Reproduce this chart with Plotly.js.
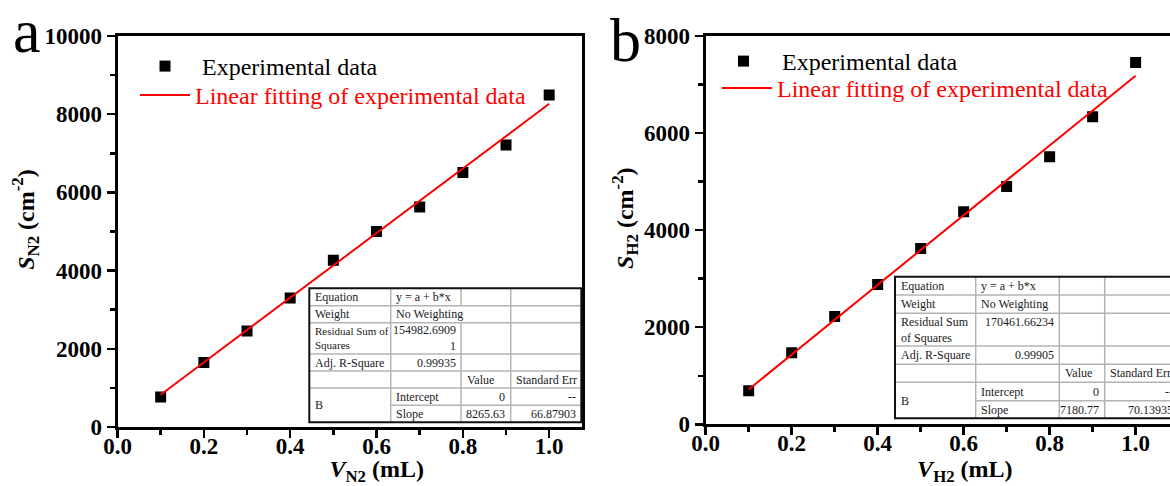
<!DOCTYPE html>
<html>
<head>
<meta charset="utf-8">
<script src="https://cdn.plot.ly/plotly-3.0.1.min.js"></script>
<style>html,body{margin:0;padding:0;background:#fff;}#chart{width:1170px;height:486px;}</style>
</head>
<body>
<div id="chart"></div>
<script>
// ---------- data ----------
const volumes = [0.1, 0.2, 0.3, 0.4, 0.5, 0.6, 0.7, 0.8, 0.9, 1.0];
const areaN2 = [767, 1647, 2455, 3299, 4263, 4997, 5627, 6506, 7212, 8491];
const areaH2 = [693, 1476, 2219, 2878, 3621, 4377, 4899, 5511, 6336, 7456];
const slopeN2 = 8265.63;
const slopeH2 = 7180.77;
const fitRange = [0.1, 1.0];
const legendNames = ["Experimental data", "Linear fitting of experimental data"];

// fit tables (text)
const tableN2 = [
  [0, 0, "Equation", "l"], [0, 1, "y = a + b*x", "l"],
  [1, 0, "Weight", "l"], [1, 1, "No Weighting", "l"],
  [2, 0, "Residual Sum of<br>Squares", "l", 11], [2, 1, "154982.6909<br>1", "r"],
  [3, 0, "Adj. R-Square", "l"], [3, 1, "0.99935", "r"],
  [4, 2, "Value", "l"], [4, 3, "Standard Err", "l"],
  [5, 1, "Intercept", "l"], [5, 2, "0", "r"], [5, 3, "--", "r"],
  [6, 1, "Slope", "l"], [6, 2, "8265.63", "r"], [6, 3, "66.87903", "r"],
  [5.5, 0, "B", "l"]
];
const tableH2 = [
  [0, 0, "Equation", "l"], [0, 1, "y = a + b*x", "l"],
  [1, 0, "Weight", "l"], [1, 1, "No Weighting", "l"],
  [2, 0, "Residual Sum<br>of Squares", "l"], [2.0, 1, "170461.66234", "r", null, 322.3],
  [3, 0, "Adj. R-Square", "l"], [3, 1, "0.99905", "r"],
  [4, 2, "Value", "l"], [4, 3, "Standard Err", "l"],
  [5, 1, "Intercept", "l"], [5, 2, "0", "r"], [5, 3, "--", "r"],
  [6, 1, "Slope", "l"], [6, 2, "7180.77", "r"], [6, 3, "70.13935", "r"],
  [5.5, 0, "B", "l"]
];

// ---------- layout helpers ----------
const W = 1170, H = 486;
const X = p => p / W;
const Y = p => 1 - p / H;
const serif = "Liberation Serif";

const shapes = [];
const annotations = [];

function drawTable(cells, cols, rows, size, skipV) {
  const x0 = cols[0], x1 = cols[cols.length - 1], y0 = rows[0], y1 = rows[rows.length - 1];
  shapes.push({type: "rect", xref: "paper", yref: "paper", x0: X(x0), x1: X(x1), y0: Y(y1), y1: Y(y0),
    fillcolor: "#fff", line: {width: 0}, layer: "above"});
  const grey = {color: "#b4b4b4", width: 1.5};
  for (let i = 1; i < rows.length - 1; i++) {
    const startX = (i === 6) ? cols[1] : x0;
    shapes.push({type: "line", xref: "paper", yref: "paper", x0: X(startX), x1: X(x1), y0: Y(rows[i]), y1: Y(rows[i]), line: grey, layer: "above"});
  }
  for (let j = 1; j < cols.length - 1; j++) {
    if (skipV && j === 2) {
      shapes.push({type: "line", xref: "paper", yref: "paper", x0: X(cols[j]), x1: X(cols[j]), y0: Y(rows[0]), y1: Y(rows[1]), line: grey, layer: "above"});
      shapes.push({type: "line", xref: "paper", yref: "paper", x0: X(cols[j]), x1: X(cols[j]), y0: Y(rows[2]), y1: Y(y1), line: grey, layer: "above"});
    } else {
      shapes.push({type: "line", xref: "paper", yref: "paper", x0: X(cols[j]), x1: X(cols[j]), y0: Y(y0), y1: Y(y1), line: grey, layer: "above"});
    }
  }
  shapes.push({type: "rect", xref: "paper", yref: "paper", x0: X(x0), x1: X(x1), y0: Y(y1), y1: Y(y0),
    fillcolor: "rgba(0,0,0,0)", line: {color: "#111", width: 2}, layer: "above"});
  cells.forEach(c => {
    const [r, col, text, al, fs, yOver] = c;
    let yc;
    if (yOver) yc = yOver;
    else if (r === 5.5) yc = rows[6];
    else yc = (rows[r] + rows[r + 1]) / 2;
    const xl = al === "l" ? cols[col] + 3.5 : cols[col + 1] - 3.5;
    annotations.push({xref: "paper", yref: "paper", x: X(xl), y: Y(yc), text: text, showarrow: false,
      xanchor: al === "l" ? "left" : "right", yanchor: "middle", align: al === "l" ? "left" : "right",
      font: {family: serif, size: fs || size, color: "#1a1a1a"}});
  });
}

drawTable(tableN2, [309.3, 390.7, 461, 510.7, 581.3], [288.3, 305.7, 322.7, 354, 371, 388, 405.3, 422.3], 12, true);
drawTable(tableH2, [895, 975.7, 1059.3, 1104.7, 1178], [276.7, 295, 313.3, 346, 364.3, 382.3, 400.7, 418.3], 12, false);

// panel letters
annotations.push({xref: "paper", yref: "paper", x: X(27), y: Y(31), text: "a", showarrow: false,
  xanchor: "center", yanchor: "middle", font: {family: serif, size: 62, color: "#000"}});
annotations.push({xref: "paper", yref: "paper", x: X(625), y: Y(40), text: "b", showarrow: false,
  xanchor: "center", yanchor: "middle", font: {family: serif, size: 62, color: "#000"}});

// ---------- traces ----------
const fitN2 = fitRange.map(v => slopeN2 * v);
const fitH2 = fitRange.map(v => slopeH2 * v);
const redName = '<span style="color:#ff0000">' + legendNames[1] + '</span>';
const traces = [
  {x: volumes, y: areaN2, type: "scatter", mode: "markers", name: legendNames[0],
   marker: {symbol: "square", size: 11, color: "#000"}, xaxis: "x", yaxis: "y", legend: "legend"},
  {x: fitRange, y: fitN2, type: "scatter", mode: "lines", name: redName,
   line: {color: "#ff0000", width: 2}, xaxis: "x", yaxis: "y", legend: "legend2"},
  {x: volumes, y: areaH2, type: "scatter", mode: "markers", name: legendNames[0],
   marker: {symbol: "square", size: 11, color: "#000"}, xaxis: "x2", yaxis: "y2", legend: "legend3"},
  {x: fitRange, y: fitH2, type: "scatter", mode: "lines", name: redName,
   line: {color: "#ff0000", width: 2}, xaxis: "x2", yaxis: "y2", legend: "legend4"}
];

const tickFont = {family: serif, size: 23, color: "#000", weight: 700};
const titleFont = {family: serif, size: 24, color: "#000", weight: 700};
const padX = "&nbsp;".repeat(9);
const padY = "&nbsp;".repeat(4);
function xAxis(dom, range, anchor, title) {
  return {domain: dom, range: range, anchor: anchor, tick0: 0, dtick: 0.2, tickformat: ".1f",
    ticks: "outside", ticklen: 8, tickwidth: 2.5, tickcolor: "#000", ticklabelstandoff: -12,
    minor: {dtick: 0.1, ticks: "outside", ticklen: 5, tickwidth: 2.5, tickcolor: "#000"},
    showline: true, linewidth: 3, linecolor: "#000", mirror: true, showgrid: false, zeroline: false,
    tickfont: tickFont, title: {text: title, font: titleFont, standoff: 2}, fixedrange: true};
}
function yAxis(dom, range, anchor, title, dt) {
  return {domain: dom, range: range, anchor: anchor, tick0: 0, dtick: dt, tickformat: "d",
    ticks: "outside", ticklen: 8, tickwidth: 2.5, tickcolor: "#000",
    minor: {dtick: dt / 2, ticks: "outside", ticklen: 5, tickwidth: 2.5, tickcolor: "#000"},
    showline: true, linewidth: 3, linecolor: "#000", mirror: true, showgrid: false, zeroline: false,
    tickfont: tickFont, title: {text: title, font: titleFont, standoff: 4}, fixedrange: true};
}
function leg(px, py, iw) {
  return {x: X(px), y: Y(py), xanchor: "left", yanchor: "top", bgcolor: "rgba(0,0,0,0)",
    font: {family: serif, size: 24, color: "#000"}, itemwidth: iw};
}

const layout = {
  width: W, height: H, margin: {l: 0, r: 0, t: 0, b: 0},
  paper_bgcolor: "#fff", plot_bgcolor: "#fff", showlegend: true,
  xaxis: xAxis([X(117.5), X(582)], [0, 1.076], "y", "<b>" + padX + "<i>V</i><sub>N2</sub> (mL)</b>"),
  yaxis: yAxis([Y(427), Y(36)], [0, 10000], "x", "<b>" + padY + "<i>S</i><sub>N2</sub> (cm<sup>-2</sup>)</b>", 2000),
  xaxis2: xAxis([X(705.7), 1], [0, 1.08], "y2", "<b>" + padX + "<i>V</i><sub>H2</sub> (mL)</b>"),
  yaxis2: yAxis([Y(424.3), Y(36)], [0, 8000], "x2", "<b>" + padY + "<i>S</i><sub>H2</sub> (cm<sup>-2</sup>)</b>", 2000),
  legend: leg(128, 44, 64),
  legend2: leg(135, 73, 50),
  legend3: leg(705, 39, 67),
  legend4: leg(717, 66, 50),
  shapes: shapes,
  annotations: annotations
};

Plotly.newPlot("chart", traces, layout, {displayModeBar: false, staticPlot: true});
</script>
</body>
</html>
